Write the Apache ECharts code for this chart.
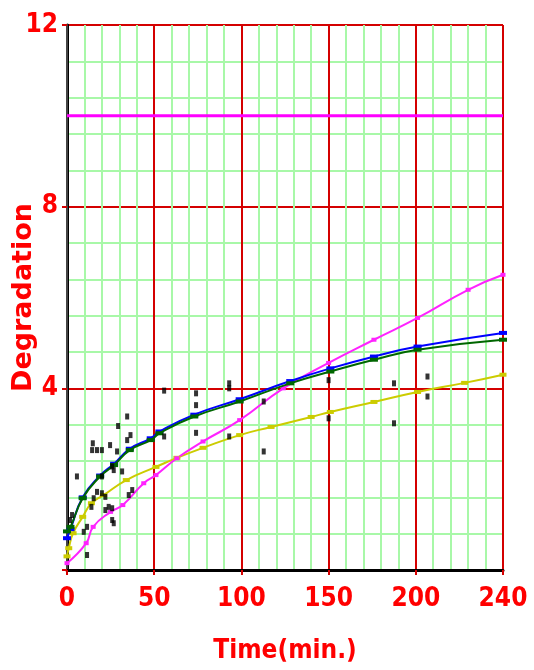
<!DOCTYPE html>
<html><head><meta charset="utf-8">
<script src="https://cdn.jsdelivr.net/npm/echarts@6/dist/echarts.min.js"></script>
<style>html,body{margin:0;padding:0;background:#fff}#c{width:534px;height:670px}</style>
</head><body><div id="c"></div>
<script>
// x tick labels (the last gridline is labelled 240 in the source)
const xTickValues = [0, 50, 100, 150, 200, 250];
const xTickLabels = ['0', '50', '100', '150', '200', '240'];
const yTickValues = [0, 4, 8, 12];
const yTickLabels = ['', '4', '8', '12'];

const limitValue = 10;

const magentaT = [0, 11, 15, 25, 32, 44, 51, 63, 78, 99, 124, 150, 176, 201, 230, 250];
const magentaV = [0.15, 0.59, 0.95, 1.28, 1.43, 1.91, 2.09, 2.46, 2.83, 3.30, 4.0, 4.56, 5.07, 5.55, 6.17, 6.5];

const greenT = [0, 2, 9, 19, 27, 36, 48, 53, 73, 99, 128, 151, 176, 201, 250];
const greenV = [0.85, 0.95, 1.58, 2.06, 2.31, 2.64, 2.86, 3.01, 3.38, 3.71, 4.11, 4.37, 4.63, 4.85, 5.07];

const blueT = [0, 2, 9, 19, 27, 36, 48, 53, 73, 99, 128, 151, 176, 201, 250];
const blueV = [0.7, 0.9, 1.6, 2.08, 2.34, 2.67, 2.9, 3.05, 3.42, 3.76, 4.16, 4.44, 4.7, 4.92, 5.22];

const yellowT = [0, 1, 3.5, 9, 14, 21, 34, 51, 63, 78, 99, 117, 140, 151, 176, 201, 228, 250];
const yellowV = [0.3, 0.48, 0.81, 1.17, 1.47, 1.65, 1.98, 2.27, 2.47, 2.69, 2.97, 3.15, 3.37, 3.48, 3.70, 3.92, 4.12, 4.30];

const obsT = [34.5, 29.3, 36.4, 34.5, 14.8, 14.4, 17.2, 20, 24.7, 28.7, 25.9, 31.6, 20, 26.8, 17.2, 15.3, 20, 22, 14, 23.9, 25.9, 22, 25.9, 26.8, 37.4, 35.4, 5.7, 11.5, 9.6, 11.5, 2.9, 1.7,
  55.7, 74, 74, 93, 93, 74, 93, 55.7, 112.8, 112.8, 150, 187.5, 206.7, 206.7, 150, 187.5];
const obsV = [3.38, 3.17, 2.97, 2.86, 2.79, 2.64, 2.64, 2.64, 2.75, 2.61, 2.28, 2.17, 2.06, 2.20, 1.72, 1.58, 1.69, 1.61, 1.39, 1.39, 1.36, 1.32, 1.10, 1.03, 1.76, 1.65, 2.06, 0.95, 0.84, 0.33, 1.21, 1.10,
  3.95, 3.89, 3.63, 4.11, 4.0, 3.02, 2.94, 2.94, 2.61, 3.71, 4.18, 4.11, 4.26, 3.82, 3.34, 3.23];

const zip = (a, b) => a.map((v, i) => [v, b[i]]);
const red = '#d40000';
const green = '#a8f8a8';
const labelFont = {color: '#ff0000', fontWeight: 'bold', fontSize: 26, fontFamily: 'DejaVu Sans Condensed, DejaVu Sans'};

const chart = echarts.init(document.getElementById('c'), null, {renderer: 'canvas'});
chart.setOption({
  animation: false,
  backgroundColor: '#fff',
  grid: {left: 67, right: 31, top: 25, bottom: 100, show: false, containLabel: false, outerBoundsMode: 'none'},
  xAxis: [{
    type: 'value', min: 0, max: 250, interval: 50,
    name: 'Time(min.)', nameLocation: 'middle', nameGap: 68, nameMoveOverlap: false,
    nameTextStyle: {color: '#ff0000', fontWeight: 'bold', fontSize: 26, fontFamily: 'DejaVu Sans Condensed, DejaVu Sans'},
    axisLine: {show: true, onZero: false, lineStyle: {color: '#000', width: 3}},
    axisTick: {show: true, length: 5, lineStyle: {color: red, width: 2}},
    axisLabel: {...labelFont, margin: 16, formatter: v => xTickLabels[xTickValues.indexOf(v)] ?? ''},
    splitLine: {show: true, lineStyle: {color: red, width: 2}},
    minorTick: {show: false, splitNumber: 5},
    minorSplitLine: {show: true, lineStyle: {color: green, width: 2}}
  }],
  yAxis: [{
    type: 'value', min: 0, max: 12, interval: 4,
    name: 'Degradation', nameLocation: 'middle', nameGap: 30, nameRotate: 90, nameMoveOverlap: false,
    nameTextStyle: {color: '#ff0000', fontWeight: 'bold', fontSize: 27, fontFamily: 'DejaVu Sans'},
    axisLine: {show: true, onZero: false, lineStyle: {color: '#000', width: 3}},
    axisTick: {show: true, length: 5, lineStyle: {color: red, width: 2}},
    axisLabel: {...labelFont, margin: 9, formatter: v => yTickLabels[yTickValues.indexOf(v)] ?? ''},
    splitLine: {show: true, lineStyle: {color: red, width: 2}},
    minorTick: {show: false, splitNumber: 5},
    minorSplitLine: {show: true, lineStyle: {color: green, width: 2}}
  }, {
    type: 'value', min: 0, max: 12, interval: 4, position: 'right',
    axisLine: {show: true, lineStyle: {color: '#444', width: 2}},
    axisTick: {show: false}, axisLabel: {show: false}, splitLine: {show: false}
  }],
  series: [
    {type: 'line', data: [[0, limitValue], [250, limitValue]], symbol: 'none', lineStyle: {color: '#ff00ff', width: 3}, z: 3},
    {type: 'line', data: zip(yellowT, yellowV), smooth: true, symbol: 'rect', symbolSize: [7, 4], itemStyle: {color: '#cccc00'}, lineStyle: {color: '#cccc00', width: 2}, z: 4},
    {type: 'line', data: zip(magentaT, magentaV), smooth: true, symbol: 'rect', symbolSize: [5, 4], itemStyle: {color: '#ff22ff'}, lineStyle: {color: '#ff22ff', width: 2}, z: 4},
    {type: 'line', data: zip(blueT, blueV), smooth: true, symbol: 'rect', symbolSize: [8, 4], itemStyle: {color: '#0000ff'}, lineStyle: {color: '#0000ff', width: 2}, z: 5},
    {type: 'line', data: zip(greenT, greenV), smooth: true, symbol: 'rect', symbolSize: [8, 4], itemStyle: {color: '#006600'}, lineStyle: {color: '#006600', width: 2}, z: 6},
    {type: 'scatter', data: zip(obsT, obsV), symbol: 'rect', symbolSize: [4, 6], itemStyle: {color: '#000'}, z: 7}
  ]
});
</script></body></html>
